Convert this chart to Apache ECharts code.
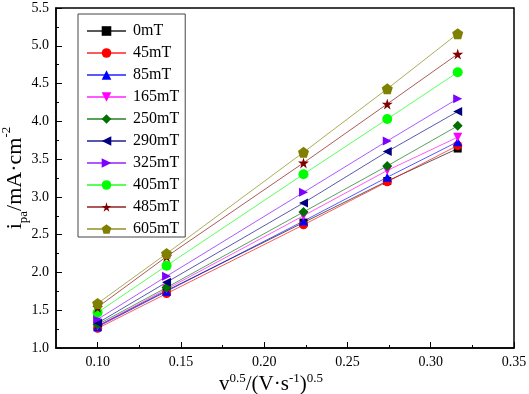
<!DOCTYPE html>
<html><head><meta charset="utf-8">
<script src="https://cdn.jsdelivr.net/npm/echarts@6/dist/echarts.min.js"></script>
<style>html,body{margin:0;padding:0;background:#fff}#c{width:529px;height:394px}</style>
</head><body><div id="c"></div>
<script>
const xValues = [0.1, 0.1414, 0.2236, 0.2739, 0.3162];
const names = ['0mT','45mT','85mT','165mT','250mT','290mT','325mT','405mT','485mT','605mT'];
const s0   = [1.29, 1.76, 2.66, 3.21, 3.64];
const s45  = [1.26, 1.72, 2.63, 3.20, 3.68];
const s85  = [1.28, 1.75, 2.68, 3.26, 3.73];
const s165 = [1.29, 1.78, 2.75, 3.35, 3.79];
const s250 = [1.31, 1.80, 2.80, 3.41, 3.94];
const s290 = [1.33, 1.87, 2.92, 3.60, 4.13];
const s325 = [1.38, 1.95, 3.06, 3.74, 4.30];
const s405 = [1.47, 2.09, 3.30, 4.03, 4.65];
const s485 = [1.54, 2.21, 3.45, 4.23, 4.89];
const s605 = [1.59, 2.25, 3.59, 4.43, 5.16];
const xTickLabels = [0.10, 0.15, 0.20, 0.25, 0.30, 0.35];
const xMinorTicks = [0.125, 0.175, 0.225, 0.275, 0.325];

const seriesValues = [s0,s45,s85,s165,s250,s290,s325,s405,s485,s605];
const markerColors = ['#000000','#ff0000','#0000ff','#ff00ff','#007000','#000080','#8000ff','#00ff00','#800000','#808000'];
const STAR = 'path://M50,0 L61,35 L98,35 L68,57 L79,91 L50,70 L21,91 L32,57 L2,35 L39,35 Z';
const PENT = 'path://M50,0 L98,36 L80,95 L20,95 L2,36 Z';
const symbols = ['rect','circle','triangle','triangle','diamond','triangle','triangle','circle',STAR,PENT];
const rotations = [0,0,0,180,0,90,-90,0,0,0];
const sizes = [8,9,9,9,10,9,9,10,11,11];

const FONT = '"Liberation Serif","Times New Roman",serif';
const chart = echarts.init(document.getElementById('c'), null, {renderer:'canvas'});
const series = names.map((n,i)=>({
  name:n, type:'line',
  data: xValues.map((x,j)=>[x, seriesValues[i][j]]),
  symbol: symbols[i], symbolRotate: rotations[i], symbolSize: sizes[i],
  showAllSymbol: true,
  itemStyle:{color:markerColors[i], opacity:1},
  lineStyle:{color:markerColors[i], width:1, opacity:0.65},
  emphasis:{disabled:true}, animation:false
}));
chart.setOption({
  animation:false,
  grid:{left:56, right:15, top:8, bottom:46, show:true, borderColor:'#000', borderWidth:1.5,
        containLabel:false, outerBoundsMode:'none'},
  legend:{
    orient:'vertical', left:78, top:14,
    data: names.map((n,i)=>({name:n, symbolRotate: rotations[i]})),
    itemWidth:39, itemHeight:12, itemGap:6,
    padding:[9,6,0,8],
    borderColor:'#444', borderWidth:1,
    textStyle:{fontFamily:FONT, fontSize:16, lineHeight:16, color:'#000', padding:[0,0,0,2]},
    selectedMode:false
  },
  xAxis:[{
    type:'value', min:0.075, max:0.35,
    axisLine:{show:true, lineStyle:{color:'#000', width:1.5}},
    axisTick:{show:true, inside:true, length:6, customValues:xTickLabels, lineStyle:{color:'#000', width:1}},
    axisLabel:{customValues:xTickLabels, fontFamily:FONT, fontSize:14, color:'#000', margin:7,
      formatter:v=>v.toFixed(2)},
    splitLine:{show:false},
    name:'{a|v}{s|0.5}{a|/(V·s}{s|-1}{a|)}{s|0.5}', nameLocation:'middle', nameGap:24,
    nameMoveOverlap:false,
    nameTextStyle:{fontFamily:FONT, color:'#000', padding:[0,28,0,0], rich:{
      a:{fontFamily:FONT, fontSize:21, color:'#000', lineHeight:24},
      s:{fontFamily:FONT, fontSize:13, color:'#000', lineHeight:14, verticalAlign:'top'}
    }}
  },{
    type:'value', min:0.075, max:0.35, position:'bottom',
    axisLine:{show:false},
    axisTick:{show:true, inside:true, length:3, customValues:xMinorTicks, lineStyle:{color:'#000', width:1}},
    axisLabel:{show:false}, splitLine:{show:false}
  }],
  yAxis:{
    type:'value', min:1.0, max:5.5, interval:0.5,
    axisLine:{show:true, lineStyle:{color:'#000', width:1.5}},
    axisTick:{show:true, inside:true, length:6, lineStyle:{color:'#000', width:1}},
    minorTick:{show:true, splitNumber:2, length:3, lineStyle:{color:'#000', width:1}},
    axisLabel:{fontFamily:FONT, fontSize:14, color:'#000', margin:7, formatter:v=>v.toFixed(1)},
    splitLine:{show:false},
    name:'{a|i}{b|pa}{a|/mA·cm}{s|-2}', nameLocation:'middle', nameGap:26,
    nameMoveOverlap:false,
    nameTextStyle:{fontFamily:FONT, color:'#000', rich:{
      a:{fontFamily:FONT, fontSize:22, color:'#000', lineHeight:30},
      b:{fontFamily:FONT, fontSize:13, color:'#000', lineHeight:18, verticalAlign:'bottom'},
      s:{fontFamily:FONT, fontSize:13, color:'#000', lineHeight:16, verticalAlign:'top'}
    }}
  },
  series: series
});
</script></body></html>
